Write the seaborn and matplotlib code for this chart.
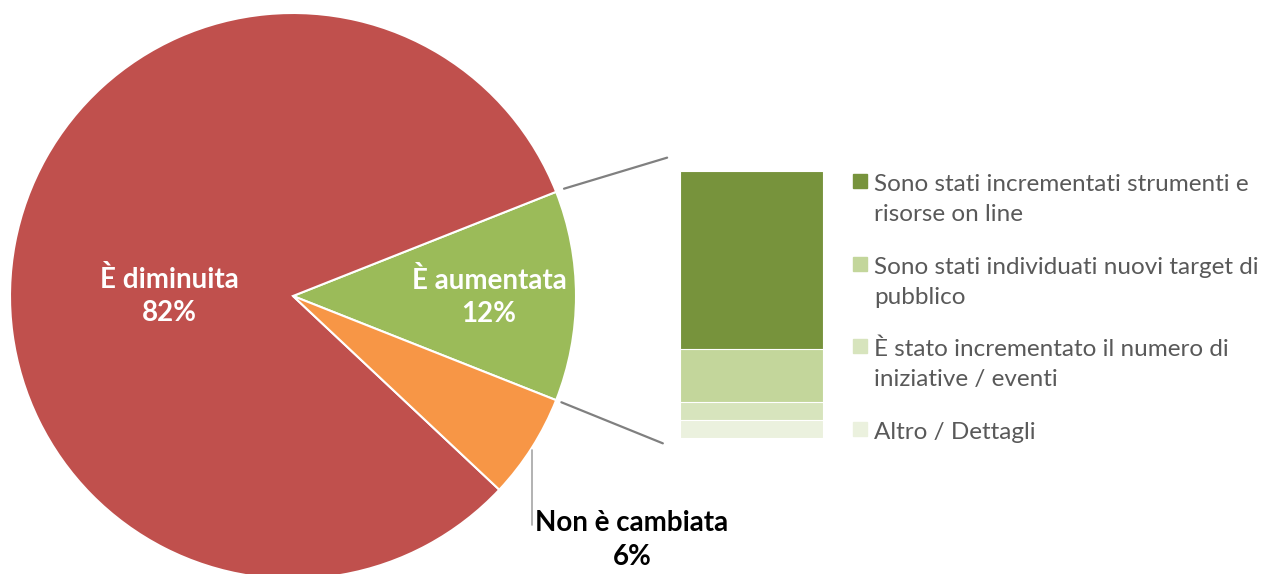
import numpy as np
import pandas as pd
import matplotlib.pyplot as plt
import seaborn as sns
from matplotlib.patches import ConnectionPatch, Rectangle

# main pie
pie_labels = ["È aumentata", "È diminuita", "Non è cambiata"]
pie_values = [12, 82, 6]
pie_colors = ["#9BBB59", "#C0504D", "#F79646"]

# breakdown of "È aumentata" (shares of the 12%)
detail_labels = [
    "Sono stati incrementati strumenti e\nrisorse on line",
    "Sono stati individuati nuovi target di\npubblico",
    "È stato incrementato il numero di\niniziative / eventi",
    "Altro / Dettagli",
]
detail_values = [8.0, 2.4, 0.8, 0.8]
detail_colors = ["#77933C", "#C3D69B", "#D7E4BD", "#EBF1DE"]

sns.set_theme(style="white")
plt.rcParams["font.family"] = ["Lato", "DejaVu Sans"]

W, H = 1269, 574
fig = plt.figure(figsize=(W / 100, H / 100), dpi=100)


def px_axes(x0, y0, x1, y1):
    return fig.add_axes([x0 / W, 1 - y1 / H, (x1 - x0) / W, (y1 - y0) / H])


# --- pie ---
ax_pie = px_axes(10, 13, 576, 579)
start = -pie_values[0] / 100 * 360 / 2
wedges, _ = ax_pie.pie(pie_values, colors=pie_colors, startangle=start,
                       counterclock=True,
                       wedgeprops=dict(edgecolor="white", linewidth=1.5))
ax_pie.set_xlim(-1, 1)
ax_pie.set_ylim(-1, 1)
ax_pie.set_aspect("equal")
ax_pie.axis("off")

lab_fmt = "{}\n{}%"
lab_kw = dict(fontsize=20, fontweight="bold", ha="center", va="center", linespacing=1.35)
ax_pie.text(0.693, -0.004, lab_fmt.format(pie_labels[0], pie_values[0]), color="white", **lab_kw)
ax_pie.text(-0.437, 0.0, lab_fmt.format(pie_labels[1], pie_values[1]), color="white", **lab_kw)
ax_pie.text(1.198, -0.862, lab_fmt.format(pie_labels[2], pie_values[2]), color="black", **lab_kw)
ax_pie.plot([0.845, 0.845], [-0.545, -0.81], color="#A6A6A6", lw=1.2, clip_on=False)

# --- stacked bar of the breakdown ---
ax_bar = px_axes(680, 171, 823, 438)
tops = np.cumsum(detail_values[::-1])[::-1]  # dark on top
for top, col in zip(tops, detail_colors):
    df = pd.DataFrame({"grp": ["aumentata"], "val": [top]})
    sns.barplot(data=df, x="grp", y="val", color=col, saturation=1, width=1,
                edgecolor="white", linewidth=0.8, ax=ax_bar)
ax_bar.set_xlim(-0.5, 0.5)
ax_bar.set_ylim(0, sum(detail_values))
ax_bar.axis("off")

# connector lines
th1 = np.deg2rad(start + pie_values[0] / 100 * 360)
th0 = np.deg2rad(start)
for th, r, xyb in [(th1, 1.03, (-0.09, 1.05)), (th0, 1.02, (-0.12, -0.02))]:
    con = ConnectionPatch(xyA=(r * np.cos(th), r * np.sin(th)), coordsA=ax_pie.transData,
                          xyB=xyb, coordsB=ax_bar.transAxes,
                          color="#808080", lw=1.6)
    fig.add_artist(con)

# legend (square aligned with the first line of each entry)
for i, (lab, col) in enumerate(zip(detail_labels, detail_colors)):
    base = 191 + i * 82.7
    fig.add_artist(Rectangle((853 / W, 1 - (base - 3) / H), 14 / W, 14 / H,
                             transform=fig.transFigure, color=col))
    for j, line in enumerate(lab.split("\n")):
        fig.text(874 / W, 1 - (base + j * 30) / H, line, fontsize=17.5,
                 color="#595959", ha="left", va="baseline")

fig.savefig("out.png", dpi=100)
